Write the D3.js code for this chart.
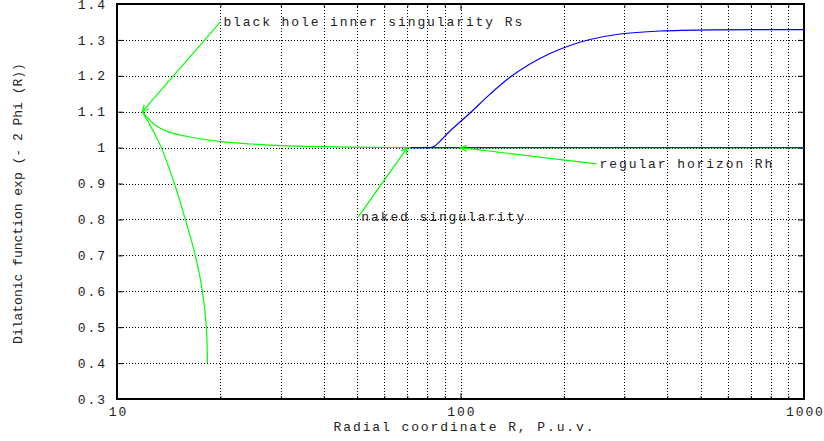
<!DOCTYPE html>
<html><head><meta charset="utf-8">
<script src="https://cdn.jsdelivr.net/npm/d3@7"></script>
<style>
html,body{margin:0;padding:0;background:#fff;}
text{font-family:"Liberation Mono","DejaVu Sans Mono",monospace;fill:#222;}
</style></head>
<body><svg id="c" width="824" height="441"></svg>
<script>
// ---- data ----
const xMajorTicks = [10, 100, 1000];
const xMinorTicks = [20,30,40,50,60,70,80,90,200,300,400,500,600,700,800,900];
const yTicks = [0.3,0.4,0.5,0.6,0.7,0.8,0.9,1.0,1.1,1.2,1.3,1.4];
const yTickLabels = ["0.3","0.4","0.5","0.6","0.7","0.8","0.9","1","1.1","1.2","1.3","1.4"];

// green: black-hole solution, lower branch (R=18.3 up to the inner singularity)
const greenLowerR = [18.33,18.2,17.73,16.9,15.81,14.69,13.46,12.9,12.35,11.85];
const greenLowerY = [0.4,0.5,0.6,0.7,0.8,0.9,1.0,1.037,1.07,1.1];
// green: upper branch (from the inner singularity decaying towards 1)
const greenUpperR = [11.85,12.9,14.11,15.78,17.64,20.08,24.66,30.2,40.3,55,80,100,1000];
const greenUpperY = [1.1,1.063,1.044,1.0324,1.024,1.0166,1.0101,1.0054,1.0026,1.0008,1.0,1.0,1.0];

// blue: naked singularity branch rising to plateau
const blueR = [71.5,80,83.2,93.2,106.6,121.9,139.3,159.3,182.2,208.4,238.3,291.2,380.9,569.6,1000];
const blueY = [1.0,1.0005,1.002,1.0463,1.0965,1.149,1.196,1.2329,1.2622,1.2844,1.3011,1.3165,1.3248,1.3282,1.3285];

// blue: regular horizon branch
const blueFlatR = [71.5,1000];
const blueFlatY = [1.0,1.0];

// annotations
const labelTexts = ["black hole inner singularity Rs","naked singularity","regular horizon Rh"];
const arrowFromR = [20, 50.4, 249];
const arrowFromY = [1.35, 0.807, 0.955];
const arrowToR = [11.85, 70, 100];
const arrowToY = [1.1, 1.0, 1.0];

const xTitle = "Radial coordinate R, P.u.v.";
const yTitle = "Dilatonic function exp (- 2 Phi (R))";

// ---- chart ----
const svg = d3.select("#c");
const L=117, R=804, T=4, B=399;
const FS="13px", LS="1.9px";
const x = d3.scaleLog().domain([10,1000]).range([L,R]);
const y = d3.scaleLinear().domain([0.3,1.4]).range([B,T]);

// grid
const grid = svg.append("g").attr("stroke","#000").attr("stroke-width",1).attr("stroke-dasharray","1,2").attr("shape-rendering","crispEdges");
yTicks.filter(v=>v>0.3001 && v<1.3999).forEach(v=>{
  grid.append("line").attr("x1",L).attr("x2",R).attr("y1",Math.round(y(v))+0.5).attr("y2",Math.round(y(v))+0.5);
});
xMinorTicks.concat([100]).forEach(v=>{
  grid.append("line").attr("y1",T).attr("y2",B).attr("x1",Math.round(x(v))+0.5).attr("x2",Math.round(x(v))+0.5);
});

// axes with inward, mirrored ticks
function styleAxis(g){
  g.select(".domain").remove();
  g.selectAll("line").attr("stroke","#000").attr("stroke-width",1);
  g.selectAll("text").attr("font-size",FS).attr("letter-spacing",LS).attr("fill","#222");
}
svg.append("g").attr("transform",`translate(0,${B})`)
  .call(d3.axisBottom(x).tickValues(xMajorTicks).tickFormat(d3.format("d")).tickSizeInner(-6).tickPadding(8))
  .call(styleAxis).call(g=>g.selectAll("text").attr("dx","0.9px"));
svg.append("g").attr("transform",`translate(0,${B})`)
  .call(d3.axisBottom(x).tickValues(xMinorTicks).tickFormat("").tickSizeInner(-3)).call(styleAxis);
svg.append("g").attr("transform",`translate(0,${T})`)
  .call(d3.axisTop(x).tickValues(xMajorTicks).tickFormat("").tickSizeInner(-6)).call(styleAxis);
svg.append("g").attr("transform",`translate(0,${T})`)
  .call(d3.axisTop(x).tickValues(xMinorTicks).tickFormat("").tickSizeInner(-3)).call(styleAxis);
svg.append("g").attr("transform",`translate(${L},0)`)
  .call(d3.axisLeft(y).tickValues(yTicks).tickFormat((d,i)=>yTickLabels[i]).tickSizeInner(-6).tickPadding(12))
  .call(styleAxis).call(g=>g.selectAll("text").attr("dx","1.9px"));
svg.append("g").attr("transform",`translate(${R},0)`)
  .call(d3.axisRight(y).tickValues(yTicks).tickFormat("").tickSizeInner(-6)).call(styleAxis);

// border
svg.append("rect").attr("x",L).attr("y",T).attr("width",R-L).attr("height",B-T)
  .attr("fill","none").attr("stroke","#000").attr("stroke-width",2);

// curves
const smooth = d3.line().x(d=>x(d[0])).y(d=>y(d[1])).curve(d3.curveCatmullRom.alpha(0.5));
svg.append("clipPath").attr("id","pc").append("rect").attr("x",L).attr("y",T).attr("width",R-L).attr("height",B-T);
const plot = svg.append("g").attr("clip-path","url(#pc)");
const zip = (a,b)=>a.map((v,i)=>[v,b[i]]);
plot.append("path").datum(zip(greenLowerR,greenLowerY)).attr("d",smooth)
  .attr("fill","none").attr("stroke","#00ff00").attr("stroke-width",1.2);
plot.append("path").datum(zip(greenUpperR,greenUpperY)).attr("d",smooth)
  .attr("fill","none").attr("stroke","#00ff00").attr("stroke-width",1.2);
plot.append("path").datum(zip(blueFlatR,blueFlatY)).attr("d",smooth)
  .attr("fill","none").attr("stroke","#1030a0").attr("stroke-width",1.2);
plot.append("path").datum(zip(blueR,blueY)).attr("d",smooth)
  .attr("fill","none").attr("stroke","#0000ff").attr("stroke-width",1.2);

// arrows + labels
labelTexts.forEach((t,i)=>{
  const x1=x(arrowFromR[i]), y1=y(arrowFromY[i]), x2=x(arrowToR[i]), y2=y(arrowToY[i]);
  const g = svg.append("g").attr("stroke","#00ff00").attr("stroke-width",1.2).attr("fill","none");
  g.append("line").attr("x1",x1).attr("y1",y1).attr("x2",x2).attr("y2",y2);
  const ang = Math.atan2(y1-y2, x1-x2), len=7, spread=0.45;
  g.append("path").attr("d",`M${x2+len*Math.cos(ang+spread)},${y2+len*Math.sin(ang+spread)}L${x2},${y2}L${x2+len*Math.cos(ang-spread)},${y2+len*Math.sin(ang-spread)}`);
  svg.append("text").attr("x",x1+3).attr("y",y1+4.5).attr("font-size",FS).attr("letter-spacing",LS).text(t);
});

// titles
svg.append("text").attr("x",(L+R)/2+4).attr("y",431).attr("text-anchor","middle")
  .attr("font-size",FS).attr("letter-spacing",LS).text(xTitle);
svg.append("text").attr("transform",`translate(22,${(T+B)/2+2}) rotate(-90)`).attr("text-anchor","middle")
  .attr("font-size","13px").text(yTitle);
</script></body></html>
